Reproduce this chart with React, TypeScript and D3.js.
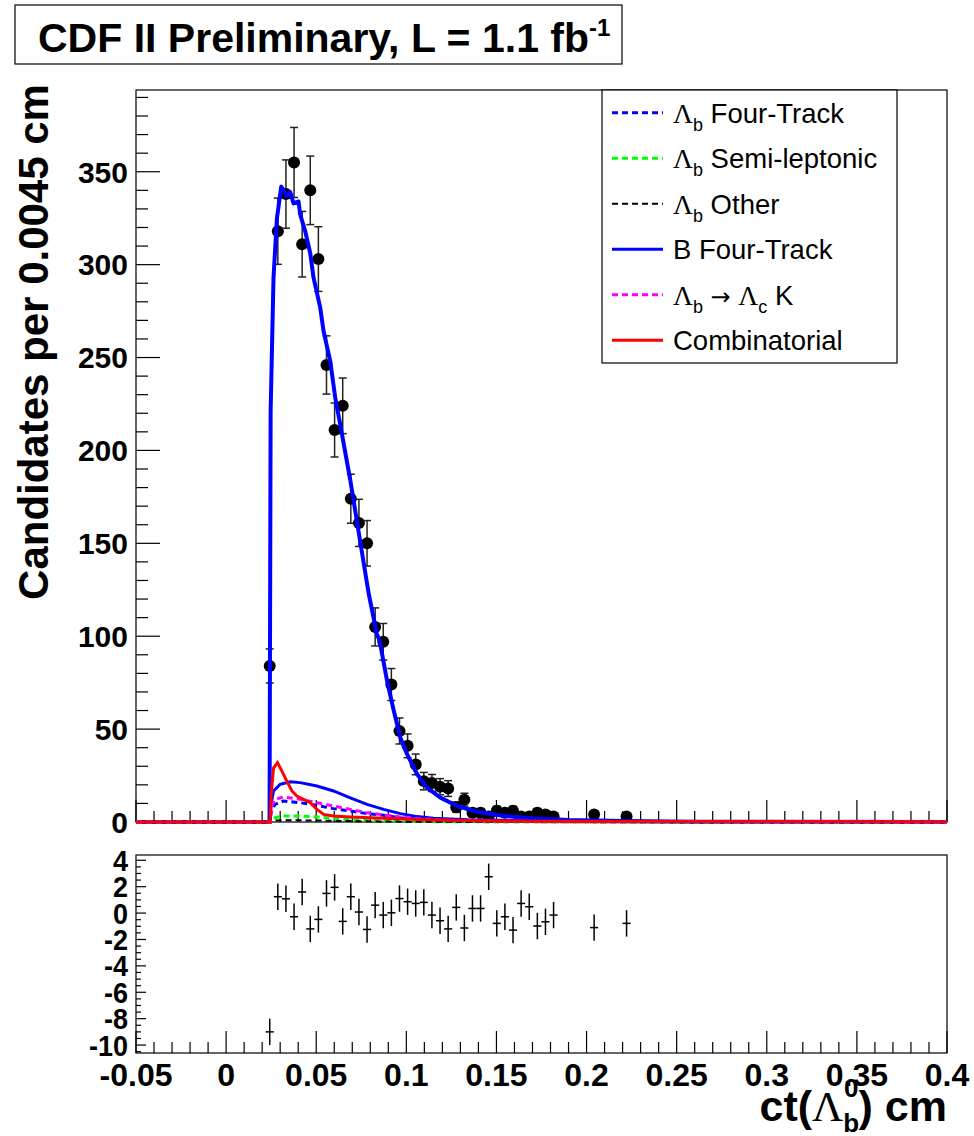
import React from 'react';
import * as d3 from 'd3';

// histogram: ct bins of 0.0045 cm
const binStart = 0.0242;
const binWidth = 0.0045;
const counts = [84, 318, 338, 355, 311, 340, 303, 246, 211, 224, 174, 161, 150, 105, 97, 74, 49, 41, 31, 22,
  21, 19, 18, 8, 12, 5, 5, 3, 6, 5, 6, 3, 3, 5, 4, 3, 0, 0, 0, 0, 4, 0, 0, 0, 3];
const residuals: (number | null)[] = [-9.0, 1.24, 1.08, -0.28, 1.6, -1.2, -0.48, 1.49, 1.95, -0.63, 1.24, 0.08,
  -1.24, 0.6, -0.15, 0.02, 1.1, 0.86, 0.73, 0.81, -0.15, -0.58, -1.2, 0.43, -1.13, 0.35, 0.35, 2.75, -0.78,
  -0.28, -1.29, 0.73, 0.48, -0.98, -0.66, -0.15, null, null, null, null, -1.1, null, null, null, -0.78];

// fit curves
const totalX = [-0.05, 0.0241, 0.0247, 0.0263, 0.0282, 0.0306, 0.0318, 0.0337, 0.0356, 0.0374, 0.0402, 0.0411,
  0.0439, 0.0467, 0.0485, 0.0522, 0.0541, 0.0578, 0.0606, 0.0633, 0.0689, 0.0744, 0.0791, 0.0837, 0.0852,
  0.0893, 0.093, 0.0967, 0.1004, 0.106, 0.1115, 0.1189, 0.1282, 0.1393, 0.1504, 0.1578, 0.17, 0.19, 0.22,
  0.26, 0.3, 0.4];
const totalY = [0, 0, 221, 293, 325, 342, 340, 337, 339, 333, 334, 327, 318, 306, 293, 277, 264, 248, 228, 214,
  184, 151, 123, 101, 97.5, 76, 60, 45.4, 36.5, 25.7, 18.5, 13.1, 8.6, 5.5, 3.8, 2.9, 2, 1.1, 0.5, 0.2, 0.1, 0];

const combX = [-0.05, 0.0244, 0.025, 0.0263, 0.0285, 0.0309, 0.0337, 0.0365, 0.0393, 0.0429, 0.0467, 0.0504,
  0.0541, 0.0596, 0.0689, 0.0874, 0.106, 0.124, 0.152, 0.208, 0.4];
const combY = [0, 0, 15, 29, 32, 27.5, 22, 16.7, 14, 12.2, 10.4, 6.8, 4.1, 3.2, 2.7, 2.0, 1.4, 1.0, 0.6, 0.3, 0.1];

const bFourX = [-0.05, 0.0245, 0.025, 0.0263, 0.03, 0.0356, 0.0411, 0.0504, 0.0596, 0.0689, 0.0782, 0.0874,
  0.0967, 0.106, 0.115, 0.134, 0.152, 0.208, 0.4];
const bFourY = [0, 0, 10, 16.7, 20.3, 21.7, 21.2, 19.4, 16.7, 13, 9.5, 6.8, 4.5, 2.9, 2, 1.2, 0.9, 0.3, 0];

const compX = [-0.05, 0.0245, 0.025, 0.0272, 0.0318, 0.0411, 0.0504, 0.0596, 0.0689, 0.0782, 0.0874, 0.0967,
  0.106, 0.124, 0.152, 0.208, 0.4];
const lcKY = [0, 0, 8, 12.2, 13.5, 12.2, 10.4, 8.6, 6.8, 5, 3.8, 2.7, 1.8, 0.9, 0.4, 0.1, 0];
const lbFourY = [0, 0, 6, 9.5, 11.3, 10.4, 8.9, 7.2, 5.9, 4.5, 3.6, 2.3, 1.6, 0.8, 0.3, 0.05, 0];
const semiY = [0, 0, 1.5, 2.3, 3.2, 3.2, 2.7, 2.0, 1.2, 0.9, 0.6, 0.4, 0.3, 0.1, 0.05, 0, 0];
const otherY = [0, 0, 0.5, 0.8, 0.9, 0.9, 0.8, 0.6, 0.5, 0.35, 0.25, 0.2, 0.15, 0.08, 0.03, 0, 0];

const xTicks = [-0.05, 0, 0.05, 0.1, 0.15, 0.2, 0.25, 0.3, 0.35, 0.4];
const xTickLabels = ['-0.05', '0', '0.05', '0.1', '0.15', '0.2', '0.25', '0.3', '0.35', '0.4'];
const yTicks = [0, 50, 100, 150, 200, 250, 300, 350];
const rTicks = [4, 2, 0, -2, -4, -6, -8, -10];

const FONT = '"Liberation Sans", Arial, Helvetica, sans-serif';
const SERIF = '"Liberation Serif", "DejaVu Serif", serif';

const L = 136, R = 947;
const T1 = 90, B1 = 822;
const T2 = 855, B2 = 1053;

export default function App() {
  const x = d3.scaleLinear().domain([-0.05, 0.4]).range([L, R]);
  const y = d3.scaleLinear().domain([0, 394]).range([B1, T1]);
  const yr = d3.scaleLinear().domain([-10.6, 4.4]).range([B2, T2]);

  const line = (xs: number[], ys: number[]) =>
    d3.line<number>().x((_, i) => x(xs[i])).y((_, i) => y(ys[i]))(xs) || '';

  const centers = counts.map((_, i) => binStart + i * binWidth);
  const minorX = d3.range(-50, 401, 10).map(v => v / 1000);
  const minorY = d3.range(0, 391, 10);
  const minorR = d3.range(-10.5, 4.01, 0.5);

  const lam = (sub: string) => (
    <><tspan fontFamily={SERIF}>Λ</tspan><tspan dy={8} fontSize={18}>{sub}</tspan></>
  );
  const legend = [
    { color: '#0000ff', dash: '6,4', w: 3, label: <>{lam('b')}<tspan dy={-8}> Four-Track</tspan></> },
    { color: '#00ff00', dash: '6,4', w: 3, label: <>{lam('b')}<tspan dy={-8}> Semi-leptonic</tspan></> },
    { color: '#000000', dash: '6,4', w: 2, label: <>{lam('b')}<tspan dy={-8}> Other</tspan></> },
    { color: '#0000ff', dash: null, w: 3, label: <>B Four-Track</> },
    { color: '#ff00ff', dash: '6,4', w: 3, label: <>{lam('b')}<tspan dy={-8} fontFamily='"DejaVu Sans", sans-serif' fontSize={24}> → </tspan><tspan fontFamily={SERIF}>Λ</tspan><tspan dy={8} fontSize={18}>c</tspan><tspan dy={-8}> K</tspan></> },
    { color: '#ff0000', dash: null, w: 3, label: <>Combinatorial</> },
  ];
  const rowH = (363 - T1) / legend.length;

  return (
    <svg width={974} height={1136} style={{ display: 'block', position: 'absolute', left: 0, top: 0, background: '#fff' }}
      fontFamily={FONT}>
      {/* title box */}
      <rect x={15} y={5} width={607} height={59} fill="#fff" stroke="#000" strokeWidth={1.2} />
      <text x={38} y={52} fontSize={41} fontWeight="bold">
        CDF II Preliminary, L = 1.1 fb<tspan dy={-16} fontSize={24}>-1</tspan>
      </text>

      {/* main frame */}
      <rect x={L} y={T1} width={R - L} height={B1 - T1} fill="none" stroke="#000" strokeWidth={1.2} />
      {minorX.map((v, i) => {
        const major = Math.abs(Math.round(v * 1000) % 50) === 0;
        return <line key={'mx' + i} x1={x(v)} x2={x(v)} y1={B1} y2={B1 - (major ? 22 : 11)} stroke="#000" strokeWidth={1.2} />;
      })}
      {minorY.map(v => (
        <line key={'my' + v} x1={L} x2={L + (v % 50 === 0 ? 24 : 12)} y1={y(v)} y2={y(v)} stroke="#000" strokeWidth={1.2} />
      ))}
      {yTicks.map(v => (
        <text key={'yl' + v} x={128} y={y(v)} dy="0.36em" textAnchor="end" fontSize={30} fontWeight="bold">{v}</text>
      ))}
      <text transform={`translate(48,342) rotate(-90)`} textAnchor="middle" fontSize={42} fontWeight="bold">
        Candidates per 0.0045 cm
      </text>

      {/* data points */}
      {counts.map((n, i) => {
        if (n <= 0) return null;
        const cx = x(centers[i]);
        const e = Math.sqrt(n);
        return (
          <g key={'pt' + i} stroke="#222" strokeWidth={1.5}>
            <line x1={cx} x2={cx} y1={y(n - e)} y2={y(n + e)} />
            <line x1={cx - 4} x2={cx + 4} y1={y(n - e)} y2={y(n - e)} />
            <line x1={cx - 4} x2={cx + 4} y1={y(n + e)} y2={y(n + e)} />
            <circle cx={cx} cy={y(n)} r={6} fill="#000" stroke="none" />
          </g>
        );
      })}

      {/* fit curves */}
      <path d={line(totalX, totalY)} fill="none" stroke="#0000ff" strokeWidth={4} strokeLinejoin="round" />
      <path d={line(bFourX, bFourY)} fill="none" stroke="#0000ff" strokeWidth={3} />
      <path d={line(compX, lbFourY)} fill="none" stroke="#0000ff" strokeWidth={3} strokeDasharray="6,4" />
      <path d={line(compX, semiY)} fill="none" stroke="#00ff00" strokeWidth={3} strokeDasharray="6,4" />
      <path d={line(compX, otherY)} fill="none" stroke="#000" strokeWidth={2} strokeDasharray="6,4" />
      <path d={line(compX, lcKY)} fill="none" stroke="#ff00ff" strokeWidth={3} strokeDasharray="6,4" />
      <path d={line(combX, combY)} fill="none" stroke="#ff0000" strokeWidth={3} />

      {/* legend */}
      <rect x={602} y={T1} width={295} height={363 - T1} fill="#fff" stroke="#000" strokeWidth={1.2} />
      {legend.map((d, i) => {
        const cy = T1 + rowH * (i + 0.5);
        return (
          <g key={'lg' + i}>
            <line x1={612} x2={663} y1={cy} y2={cy} stroke={d.color} strokeWidth={d.w}
              strokeDasharray={d.dash || undefined} />
            <text x={673} y={cy} dy="0.36em" fontSize={27.5}>{d.label}</text>
          </g>
        );
      })}

      {/* residual panel */}
      <rect x={L} y={T2} width={R - L} height={B2 - T2} fill="none" stroke="#000" strokeWidth={1.2} />
      {minorX.map((v, i) => {
        const major = Math.abs(Math.round(v * 1000) % 50) === 0;
        return <line key={'rx' + i} x1={x(v)} x2={x(v)} y1={B2} y2={B2 - (major ? 22 : 11)} stroke="#000" strokeWidth={1.2} />;
      })}
      {minorR.map((v, i) => (
        <line key={'ry' + i} x1={L} x2={L + (Math.abs(v % 2) < 1e-6 ? 10 : 5)} y1={yr(v)} y2={yr(v)} stroke="#000" strokeWidth={1.2} />
      ))}
      {rTicks.map(v => (
        <text key={'rl' + v} x={128} y={yr(v)} dy="0.36em" textAnchor="end" fontSize={27} fontWeight="bold"
          transform={`translate(128,${yr(v)}) scale(1,1.08) translate(-128,${-yr(v)})`}>{v}</text>
      ))}
      {residuals.map((r, i) => {
        if (r === null) return null;
        const cx = x(centers[i]);
        return (
          <g key={'rs' + i} stroke="#000" strokeWidth={1.5}>
            <line x1={cx} x2={cx} y1={yr(r - 1)} y2={yr(r + 1)} />
            <line x1={x(centers[i] - binWidth / 2)} x2={x(centers[i] + binWidth / 2)} y1={yr(r)} y2={yr(r)} />
          </g>
        );
      })}
      {xTicks.map((v, i) => (
        <text key={'xl' + i} x={x(v)} y={1086} textAnchor="middle" fontSize={32} fontWeight="bold">{xTickLabels[i]}</text>
      ))}
      <text x={R} y={1121} textAnchor="end" fontSize={43} fontWeight="bold">
        ct(<tspan fontFamily={SERIF} fontWeight="normal">Λ</tspan>
        <tspan dy={11} fontSize={26}>b</tspan>
        <tspan dx={-15} dy={-35} fontSize={26}>0</tspan>
        <tspan dy={24}>) cm</tspan>
      </text>
    </svg>
  );
}
